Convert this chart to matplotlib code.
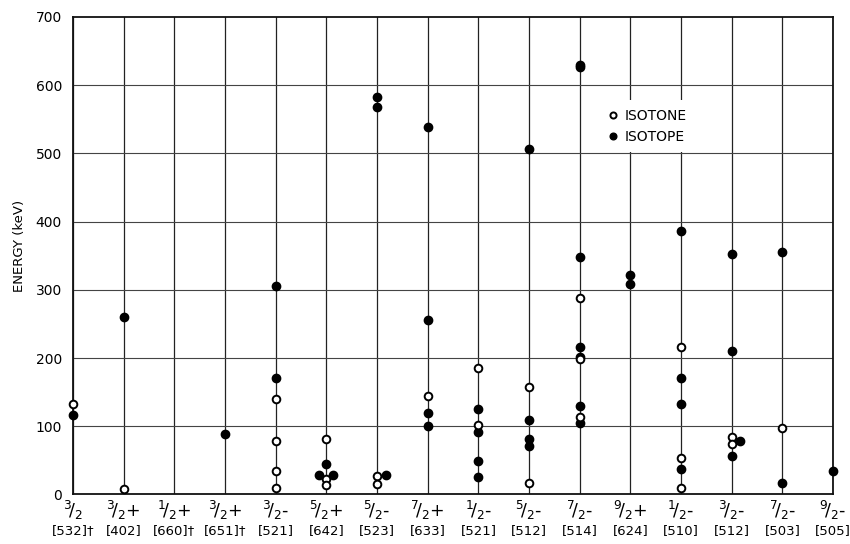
import matplotlib
matplotlib.use('Agg')
import matplotlib.pyplot as plt
import numpy as np

# Spin/parity and Nilsson labels for each column
spin_labels = [r'$^{3}\!/_{2}$', r'$^{3}\!/_{2}$+', r'$^{1}\!/_{2}$+', r'$^{3}\!/_{2}$+',
               r'$^{3}\!/_{2}$-', r'$^{5}\!/_{2}$+', r'$^{5}\!/_{2}$-', r'$^{7}\!/_{2}$+',
               r'$^{1}\!/_{2}$-', r'$^{5}\!/_{2}$-', r'$^{7}\!/_{2}$-', r'$^{9}\!/_{2}$+',
               r'$^{1}\!/_{2}$-', r'$^{3}\!/_{2}$-', r'$^{7}\!/_{2}$-', r'$^{9}\!/_{2}$-']
nilsson_labels = ['[532]†', '[402]', '[660]†', '[651]†', '[521]', '[642]', '[523]', '[633]',
                  '[521]', '[512]', '[514]', '[624]', '[510]', '[512]', '[503]', '[505]']

# open circles (isotone): column index, energy in keV
isotone_col = [0, 1, 4, 4, 4, 4, 5, 5, 5, 6, 6, 7, 8, 8, 9, 9, 10, 10, 10, 12, 12, 12, 13, 13, 14]
isotone_kev = [132, 8, 140, 78, 35, 9, 82, 22, 14, 27, 16, 145, 185, 102, 157, 17,
               288, 198, 113, 216, 53, 10, 84, 74, 98]

# filled circles (isotope)
isotope_col = [0, 1, 3, 4, 4, 5, 5, 5, 6, 6, 6, 7, 7, 7, 7, 8, 8, 8, 8, 9, 9, 9, 9,
               10, 10, 10, 10, 10, 10, 10, 11, 11, 12, 12, 12, 12, 13, 13, 13, 13, 14, 14, 15]
isotope_kev = [117, 260, 88, 305, 170, 44, 28, 28, 582, 568, 28, 538, 256, 120, 100,
               126, 92, 49, 26, 507, 109, 81, 71, 630, 626, 348, 216, 202, 129, 105,
               322, 309, 386, 171, 133, 37, 352, 210, 79, 57, 355, 17, 34]
# sideways nudge for points drawn beside their column (overlaps)
isotope_nudge = [0, 0, 0, 0, 0, 0, -0.14, 0.14, 0, 0, 0.17, 0, 0, 0, 0,
                 0, 0, 0, 0, 0, 0, 0, 0, 0, 0, 0, 0, 0, 0, 0,
                 0, 0, 0, 0, 0, 0, 0, 0, 0.17, 0, 0, 0, 0]

fig = plt.figure(figsize=(8.5, 5.44), dpi=100)
ax = fig.add_axes([0.086, 0.091, 0.894, 0.878])

ax.set_xlim(0, len(spin_labels) - 1)
ax.set_ylim(0, 700)
ax.set_yticks(np.arange(0, 701, 100))
ax.set_xticks(np.arange(len(spin_labels)))
ax.set_xticklabels([])
ax.tick_params(length=0, labelsize=10, pad=8)

for x in range(len(spin_labels)):
    ax.axvline(x, color='#222222', lw=0.9, zorder=1)
for y in range(100, 700, 100):
    ax.axhline(y, color='#444444', lw=0.8, zorder=1)
for sp in ax.spines.values():
    sp.set_linewidth(1.3)
    sp.set_color('#111111')

xs_filled = np.array(isotope_col) + np.array(isotope_nudge)
ax.plot(xs_filled, isotope_kev, 'o', ms=6, color='black', mec='black', ls='none',
        zorder=3, label='ISOTOPE', clip_on=False)
ax.plot(isotone_col, isotone_kev, 'o', ms=5.5, mfc='white', mec='black', mew=1.4,
        ls='none', zorder=4, label='ISOTONE', clip_on=False)

for i in range(len(spin_labels)):
    ax.annotate(spin_labels[i], xy=(i, 0), xycoords=('data', 'axes fraction'),
                xytext=(0, -11.5), textcoords='offset points', ha='center', va='center',
                fontsize=12.5, annotation_clip=False)
    ax.annotate(nilsson_labels[i], xy=(i, 0), xycoords=('data', 'axes fraction'),
                xytext=(0, -26), textcoords='offset points', ha='center', va='center',
                fontsize=9.5, annotation_clip=False)

ax.text(-0.07, 0.52, 'ENERGY (keV)', transform=ax.transAxes, rotation=90,
        ha='center', va='center', fontsize=9.5)

handles, labels = ax.get_legend_handles_labels()
leg = ax.legend(handles[::-1], labels[::-1], loc='upper left',
                bbox_to_anchor=(0.68, 0.84), frameon=True, fontsize=10,
                handletextpad=0.2, labelspacing=0.5, borderpad=0.6,
                handlelength=1.2, markerscale=0.8)
leg.get_frame().set_facecolor('white')
leg.get_frame().set_edgecolor('none')
leg.get_frame().set_alpha(1.0)
leg.set_zorder(5)

plt.savefig('out.png', dpi=100, facecolor='white')
